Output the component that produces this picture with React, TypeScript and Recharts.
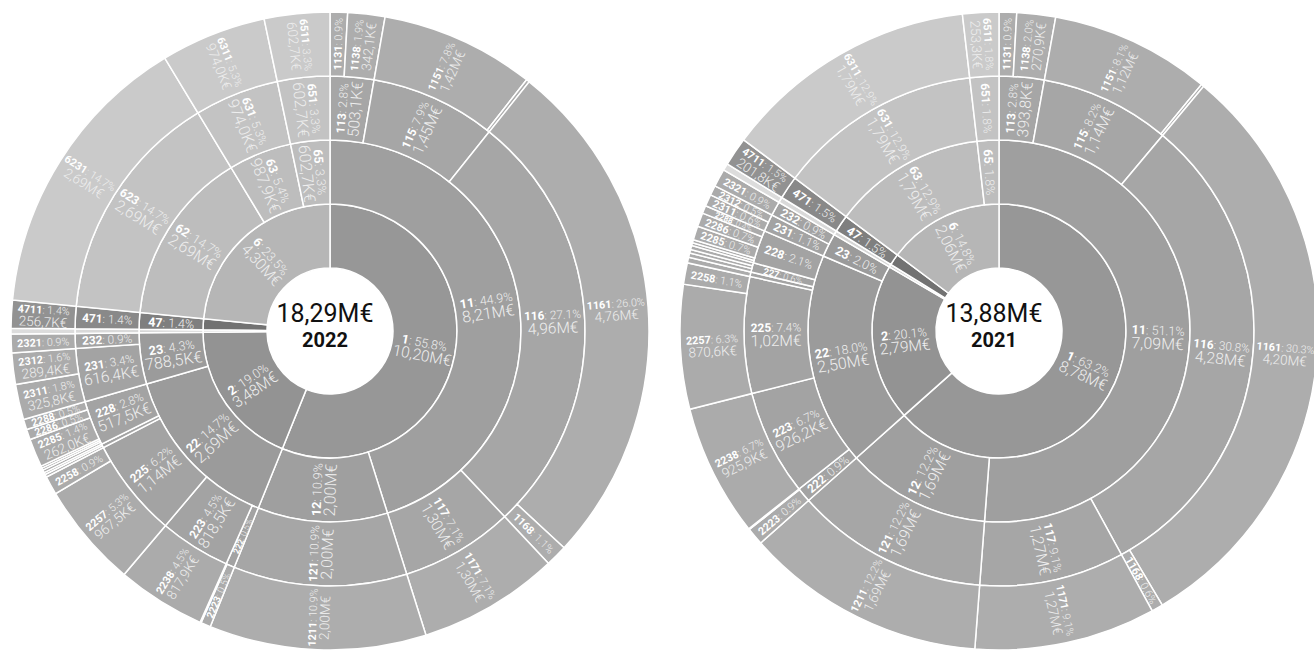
import { PieChart, Pie, Cell } from "recharts";

type Node = { code: string; value: number };

// 2022 (K€)
const TOTAL_2022 = 18290;
const RING1_2022: Node[] = [
  { code: "1", value: 10200 },
  { code: "2", value: 3480 },
  { code: "3", value: 53 },
  { code: "4", value: 256.7 },
  { code: "6", value: 4300 },
];
const RING2_2022: Node[] = [
  { code: "11", value: 8210 },
  { code: "12", value: 2000 },
  { code: "22", value: 2690 },
  { code: "23", value: 788.5 },
  { code: "31", value: 53 },
  { code: "47", value: 256.7 },
  { code: "62", value: 2690 },
  { code: "63", value: 987.9 },
  { code: "65", value: 602.7 },
];
const RING3_2022: Node[] = [
  { code: "113", value: 503.1 },
  { code: "115", value: 1450 },
  { code: "116", value: 4960 },
  { code: "117", value: 1300 },
  { code: "121", value: 2000 },
  { code: "222", value: 100 },
  { code: "223", value: 818.5 },
  { code: "225", value: 1140 },
  { code: "227", value: 45 },
  { code: "228", value: 517.5 },
  { code: "231", value: 616.4 },
  { code: "232", value: 172.1 },
  { code: "311", value: 53 },
  { code: "471", value: 256.7 },
  { code: "623", value: 2690 },
  { code: "631", value: 974.0 },
  { code: "651", value: 602.7 },
];
const RING4_2022: Node[] = [
  { code: "1131", value: 161 },
  { code: "1138", value: 342.1 },
  { code: "1151", value: 1420 },
  { code: "1158", value: 30 },
  { code: "1161", value: 4760 },
  { code: "1168", value: 200 },
  { code: "1171", value: 1300 },
  { code: "1211", value: 2000 },
  { code: "2223", value: 90 },
  { code: "2224", value: 10 },
  { code: "2238", value: 817.9 },
  { code: "2257", value: 967.5 },
  { code: "2258", value: 172.5 },
  { code: "2271", value: 25 },
  { code: "2272", value: 20 },
  { code: "2281", value: 25 },
  { code: "2282", value: 20 },
  { code: "2283", value: 20 },
  { code: "2285", value: 262.0 },
  { code: "2286", value: 95 },
  { code: "2288", value: 95 },
  { code: "2311", value: 325.8 },
  { code: "2312", value: 289.4 },
  { code: "2321", value: 172.1 },
  { code: "3111", value: 53 },
  { code: "4711", value: 256.7 },
  { code: "6231", value: 2690 },
  { code: "6311", value: 974.0 },
  { code: "6511", value: 602.7 },
];

// 2021 (K€)
const TOTAL_2021 = 13880;
const RING1_2021: Node[] = [
  { code: "1", value: 8776 },
  { code: "2", value: 2790 },
  { code: "3", value: 48 },
  { code: "4", value: 201.8 },
  { code: "6", value: 2060 },
];
const RING2_2021: Node[] = [
  { code: "11", value: 7090 },
  { code: "12", value: 1690 },
  { code: "22", value: 2500 },
  { code: "23", value: 278 },
  { code: "31", value: 48 },
  { code: "47", value: 201.8 },
  { code: "63", value: 1790 },
  { code: "65", value: 253.3 },
];
const RING3_2021: Node[] = [
  { code: "113", value: 393.8 },
  { code: "115", value: 1140 },
  { code: "116", value: 4280 },
  { code: "117", value: 1270 },
  { code: "121", value: 1690 },
  { code: "222", value: 129 },
  { code: "223", value: 926.2 },
  { code: "225", value: 1022 },
  { code: "226", value: 40 },
  { code: "227", value: 83 },
  { code: "228", value: 291 },
  { code: "231", value: 153 },
  { code: "232", value: 125 },
  { code: "311", value: 48 },
  { code: "471", value: 201.8 },
  { code: "631", value: 1790 },
  { code: "651", value: 253.3 },
];
const RING4_2021: Node[] = [
  { code: "1131", value: 122.9 },
  { code: "1138", value: 270.9 },
  { code: "1151", value: 1120 },
  { code: "1158", value: 20 },
  { code: "1161", value: 4200 },
  { code: "1168", value: 80 },
  { code: "1171", value: 1270 },
  { code: "1211", value: 1690 },
  { code: "2223", value: 122 },
  { code: "2224", value: 7 },
  { code: "2238", value: 925.9 },
  { code: "2257", value: 870.6 },
  { code: "2258", value: 149.4 },
  { code: "2261", value: 40 },
  { code: "2271", value: 30 },
  { code: "2272", value: 25 },
  { code: "2275", value: 28 },
  { code: "2281", value: 20 },
  { code: "2282", value: 22 },
  { code: "2285", value: 97 },
  { code: "2286", value: 97 },
  { code: "2288", value: 55 },
  { code: "2311", value: 83 },
  { code: "2312", value: 69 },
  { code: "2321", value: 125 },
  { code: "3111", value: 48 },
  { code: "4711", value: 201.8 },
  { code: "6311", value: 1790 },
  { code: "6511", value: 253.3 },
];

const GROUP_COLORS: Record<string, string[]> = {
  "1": ["#979797", "#9f9f9f", "#a6a6a6", "#adadad"],
  "2": ["#939393", "#9b9b9b", "#a3a3a3", "#ababab"],
  "3": ["#d2d2d2", "#d6d6d6", "#d9d9d9", "#dcdcdc"],
  "4": ["#727272", "#7f7f7f", "#898989", "#929292"],
  "6": ["#b6b6b6", "#bdbdbd", "#c3c3c3", "#cacaca"],
};

const RADII = [63, 127, 191, 255, 319];
const FONT1 = [12.5, 12.5, 11.8, 10.8];
const FONT2 = [15.5, 16, 15.5, 13.5];
const TWO_LINE_MIN = [30, 30, 32, 22];
const SHOW_MIN = [14, 7, 7, 6.5];

const fmtValue = (v: number) =>
  v >= 1000
    ? `${(v / 1000).toFixed(2).replace(".", ",")}M€`
    : `${v.toFixed(1).replace(".", ",")}K€`;

function withSpans(ring: Node[], leaves: Node[]) {
  return ring.map((n) => ({
    ...n,
    span: leaves
      .filter((l) => l.code.startsWith(n.code))
      .reduce((s, l) => s + l.value, 0),
  }));
}

function makeLabel(depth: number, total: number) {
  return (props: any) => {
    const { cx, cy, midAngle, innerRadius, outerRadius, startAngle, endAngle } = props;
    const entry = props.payload?.code ? props.payload : props;
    const r = (innerRadius + outerRadius) / 2;
    const arc = (r * Math.abs(endAngle - startAngle) * Math.PI) / 180;
    if (arc < SHOW_MIN[depth]) return null;
    const rad = (-midAngle * Math.PI) / 180;
    const x = cx + r * Math.cos(rad);
    const y = cy + r * Math.sin(rad);
    let a = ((((-midAngle) % 360) + 540) % 360) - 180;
    if (a > 90 || a < -90) a += 180;
    const pct = `: ${((entry.value / total) * 100).toFixed(1)}%`;
    const twoLines = arc >= TWO_LINE_MIN[depth];
    const f1 = Math.min(FONT1[depth], arc + 1);
    const f2 = FONT2[depth];
    const line1 = (y0: number) => (
      <text
        x={0}
        y={y0}
        textAnchor="middle"
        dominantBaseline="central"
        fontSize={f1}
        fontFamily="Roboto, sans-serif"
      >
        <tspan fontWeight={700} fill="#ffffff">
          {entry.code}
        </tspan>
        <tspan fontWeight={300} fill="#eeeeee">
          {pct}
        </tspan>
      </text>
    );
    return (
      <g transform={`translate(${x},${y}) rotate(${a})`}>
        {twoLines ? (
          <>
            {line1(-0.45 * f2)}
            <text
              x={0}
              y={0.45 * f1 + 1}
              textAnchor="middle"
              dominantBaseline="central"
              fontSize={f2}
              fontWeight={300}
              fill="#eeeeee"
              fontFamily="Roboto, sans-serif"
            >
              {fmtValue(entry.value)}
            </text>
          </>
        ) : (
          line1(0)
        )}
      </g>
    );
  };
}

function rings(cx: number, cy: number, total: number, data: Node[][], leaves: Node[], key: string) {
  return data.map((ring, d) => {
    const rows = withSpans(ring, leaves);
    return (
      <Pie
        key={`${key}-${d}`}
        data={rows}
        dataKey="span"
        nameKey="code"
        cx={cx}
        cy={cy}
        innerRadius={RADII[d]}
        outerRadius={RADII[d + 1]}
        startAngle={90}
        endAngle={-270}
        stroke="#ffffff"
        strokeWidth={1.5}
        labelLine={false}
        label={makeLabel(d, total)}
        isAnimationActive={false}
      >
        {rows.map((n, i) => (
          <Cell key={`c-${i}`} fill={GROUP_COLORS[n.code[0]][d]} />
        ))}
      </Pie>
    );
  });
}

const centerStyle = (left: number): React.CSSProperties => ({
  position: "absolute",
  left: left - 62,
  top: 301,
  width: 124,
  textAlign: "center",
  fontFamily: "Roboto, sans-serif",
  color: "#111",
  lineHeight: 1,
});

export default function App() {
  return (
    <div style={{ position: "absolute", left: 0, top: 0, width: 1314, height: 652, background: "#fff" }}>
      <PieChart width={1314} height={652}>
        {rings(325, 326, TOTAL_2022, [RING1_2022, RING2_2022, RING3_2022, RING4_2022], RING4_2022, "a")}
        {rings(994, 326, TOTAL_2021, [RING1_2021, RING2_2021, RING3_2021, RING4_2021], RING4_2021, "b")}
      </PieChart>
      <div style={centerStyle(325)}>
        <div style={{ fontSize: 25 }}>{fmtValue(TOTAL_2022)}</div>
        <div style={{ fontSize: 20, fontWeight: 700, marginTop: 4 }}>2022</div>
      </div>
      <div style={centerStyle(994)}>
        <div style={{ fontSize: 25 }}>{fmtValue(TOTAL_2021)}</div>
        <div style={{ fontSize: 20, fontWeight: 700, marginTop: 4 }}>2021</div>
      </div>
    </div>
  );
}
